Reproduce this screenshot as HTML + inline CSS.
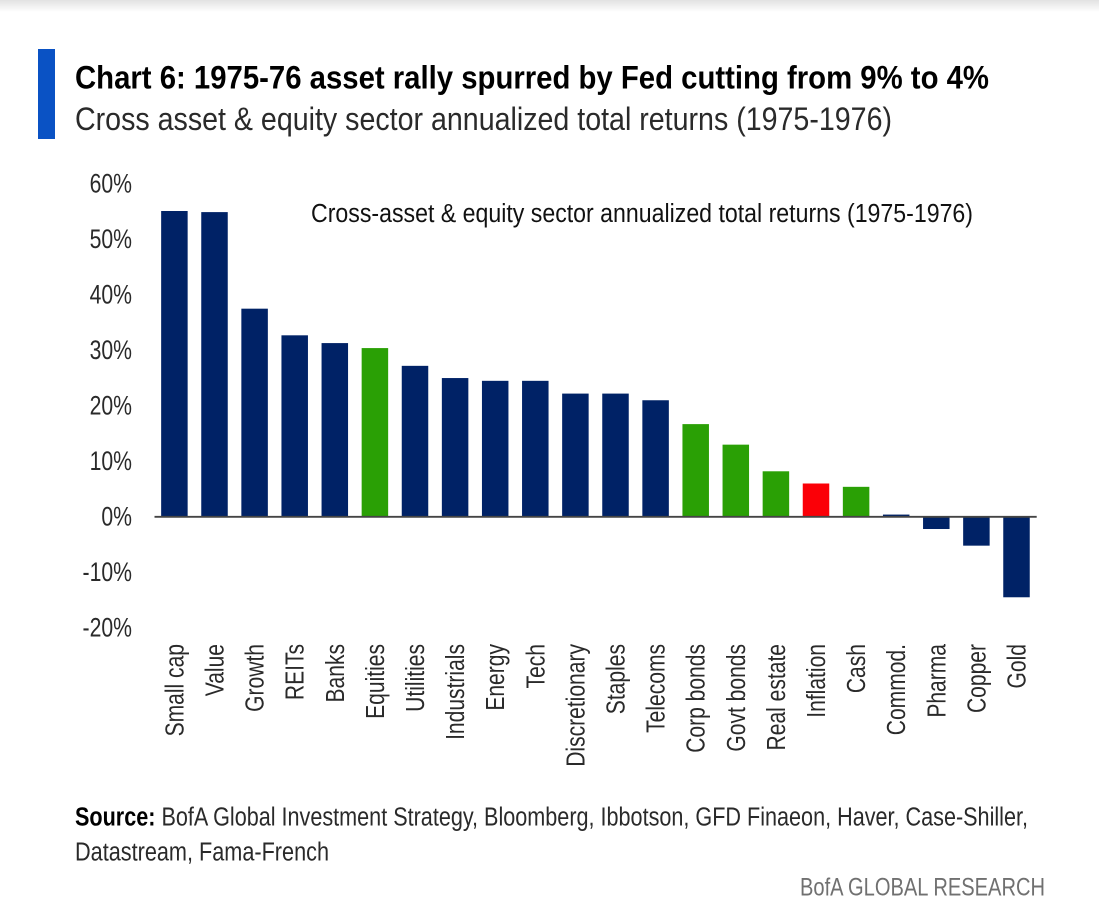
<!DOCTYPE html>
<html lang="en">
<head>
<meta charset="utf-8">
<title>Chart 6: 1975-76 asset rally</title>
<style>
html,body{margin:0;padding:0;background:#fff;width:1099px;height:916px;overflow:hidden}
svg{display:block;font-family:"Liberation Sans",sans-serif}
</style>
</head>
<body>
<svg id="chart" xmlns="http://www.w3.org/2000/svg" width="1099" height="916" viewBox="0 0 1099 916">
  <defs>
    <linearGradient id="topShade" x1="0" y1="0" x2="0" y2="1">
      <stop offset="0" stop-color="#e2e2e2"/>
      <stop offset="1" stop-color="#ffffff"/>
    </linearGradient>
  </defs>
  <rect x="0" y="0" width="1099" height="12" fill="url(#topShade)"/>
  <rect x="38" y="49" width="17" height="90" fill="#0a52c4"/>
  <text x="75" y="88.5" font-size="32.5" font-weight="700" fill="#000" textLength="914" lengthAdjust="spacingAndGlyphs">Chart 6: 1975-76 asset rally spurred by Fed cutting from 9% to 4%</text>
  <text x="75" y="130" font-size="32.5" fill="#2a2a2a" textLength="817" lengthAdjust="spacingAndGlyphs">Cross asset &amp; equity sector annualized total returns (1975-1976)</text>
  <text x="311" y="222" font-size="25.5" fill="#111" textLength="662" lengthAdjust="spacingAndGlyphs">Cross-asset &amp; equity sector annualized total returns (1975-1976)</text>
  <g id="y-axis"></g>
  <g id="bars"></g>
  <g id="x-axis"></g>
  <text x="75" y="825.5" font-size="25.5" fill="#2a2a2a" textLength="953" lengthAdjust="spacingAndGlyphs"><tspan font-weight="700" fill="#000">Source:</tspan> BofA Global Investment Strategy, Bloomberg, Ibbotson, GFD Finaeon, Haver, Case-Shiller,</text>
  <text x="75" y="860.5" font-size="25.5" fill="#2a2a2a" textLength="254" lengthAdjust="spacingAndGlyphs">Datastream, Fama-French</text>
  <text x="800" y="895.5" font-size="25" fill="#707070" textLength="245" lengthAdjust="spacingAndGlyphs">BofA GLOBAL RESEARCH</text>
</svg>
<script>
const categories = ["Small cap","Value","Growth","REITs","Banks","Equities","Utilities","Industrials","Energy","Tech","Discretionary","Staples","Telecoms","Corp bonds","Govt bonds","Real estate","Inflation","Cash","Commod.","Pharma","Copper","Gold"];
const returnsPct = [55.1,54.9,37.5,32.7,31.3,30.4,27.2,25.0,24.5,24.5,22.2,22.2,21.0,16.7,13.0,8.2,6.0,5.4,0.4,-2.2,-5.2,-14.5];
const assetGroups = ["sector","sector","sector","sector","sector","asset","sector","sector","sector","sector","sector","sector","sector","asset","asset","asset","inflation","asset","sector","sector","sector","sector"];
const yTicks = [60,50,40,30,20,10,0,-10,-20];

const NS = "http://www.w3.org/2000/svg";
const groupColors = {sector:"#002266", asset:"#2aa005", inflation:"#fb0007"};
const xScale = i => 174.4 + i * 40.1;
const yScale = v => 516.8 - v * 5.55;
const barWidth = 26.5;
const tickSquash = 0.8;
const labelSquash = 0.81;

const yAxis = document.getElementById("y-axis");
const bars = document.getElementById("bars");
const xAxis = document.getElementById("x-axis");

yTicks.forEach(t => {
  const el = document.createElementNS(NS, "text");
  
  
  el.setAttribute("text-anchor", "end");
  el.setAttribute("font-size", "26.5");
  el.setAttribute("fill", "#2a2a2a");
  el.setAttribute("transform", `translate(132 ${yScale(t) + 8.7}) scale(${tickSquash} 1)`);
  el.textContent = t + "%";
  yAxis.appendChild(el);
});

returnsPct.forEach((v, i) => {
  const r = document.createElementNS(NS, "rect");
  
  
  const top = Math.min(yScale(v), yScale(0));
  r.setAttribute("x", xScale(i) - barWidth / 2);
  r.setAttribute("y", top);
  r.setAttribute("width", barWidth);
  r.setAttribute("height", Math.abs(yScale(v) - yScale(0)));
  r.setAttribute("fill", groupColors[assetGroups[i]]);
  bars.appendChild(r);
});

const axisLine = document.createElementNS(NS, "line");


axisLine.setAttribute("x1", "154.5");
axisLine.setAttribute("x2", "1036.7");
axisLine.setAttribute("y1", yScale(0));
axisLine.setAttribute("y2", yScale(0));
axisLine.setAttribute("stroke", "#444");
axisLine.setAttribute("stroke-width", "1.8");
bars.appendChild(axisLine);

categories.forEach((c, i) => {
  const el = document.createElementNS(NS, "text");
  
  
  el.setAttribute("text-anchor", "end");
  el.setAttribute("font-size", "26");
  el.setAttribute("fill", "#2a2a2a");
  el.setAttribute("transform", `translate(${xScale(i) + 9} 644) rotate(-90) scale(${labelSquash} 1)`);
  el.textContent = c;
  xAxis.appendChild(el);
});
</script>
</body>
</html>
